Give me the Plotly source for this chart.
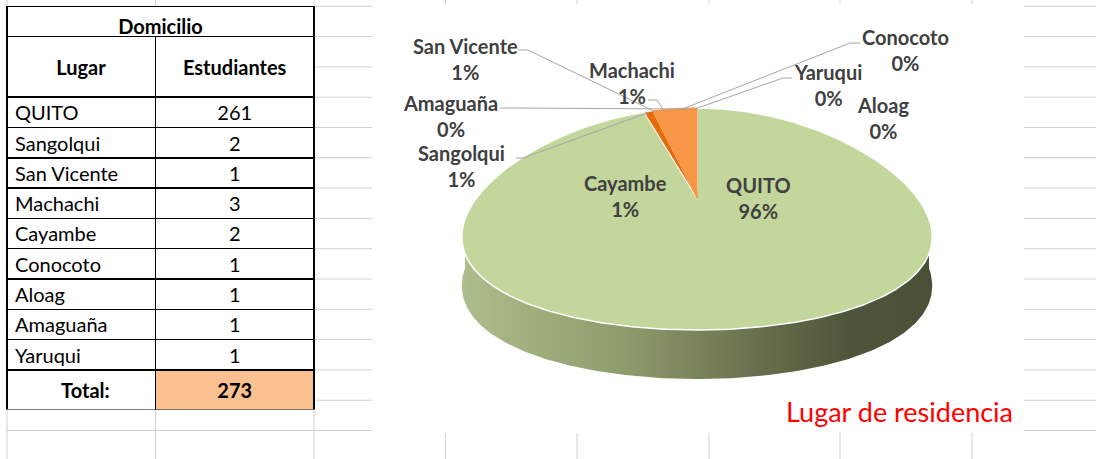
import numpy as np
import plotly.graph_objects as go

# ---------------- data ----------------
places = ["QUITO", "Sangolqui", "San Vicente", "Machachi", "Cayambe",
          "Conocoto", "Aloag", "Amaguaña", "Yaruqui"]
students = [261, 2, 1, 3, 2, 1, 1, 1, 1]
pie_pct = ["96%", "1%", "1%", "1%", "1%", "0%", "0%", "0%", "0%"]   # as printed on the chart
table_title = "Domicilio"
col_headers = ["Lugar", "Estudiantes"]
total_label = "Total:"
chart_title = "Lugar de residencia"

total = sum(students)

# ---------------- styling / layout constants ----------------
W, H = 1096, 459
FONT = "Lato"
LABEL_COLOR = "#404040"
slice_colors = ["#C3D69B", "#E46C0A"] + ["#F79646"] * 7
side_scale = [[0.0, "#aebd8c"], [0.35, "#8e9b6b"], [0.65, "#646d4a"],
              [0.82, "#4f563b"], [1.0, "#4a5037"]]

# pie geometry (pixel space of the page)
CX, CY, RX, RY = 697, 219, 232, 111
DEPTH, APEX_DY, PERSP = 49, 21, 0.17

# label placement: centre (x, y) and optional leader (anchor_x, anchor_y, elbow_x)
label_layout = {
    "QUITO": (758, 198, None),
    "Sangolqui": (461, 166, (516, 158, 523)),
    "San Vicente": (465, 59, (518, 50, 528)),
    "Machachi": (632, 83, (648, 100, 657)),
    "Cayambe": (625, 196, None),
    "Conocoto": (905, 50, (860, 43, 850)),
    "Aloag": (883, 118, None),
    "Amaguaña": (450, 116, (500, 108, 510)),
    "Yaruqui": (828, 85, (792, 78, 783)),
}

# excel grid
grid_rows = [6.3 + 30.3 * k for k in range(16)]
grid_cols = [7, 155.5, 314, 445.5, 577, 709, 840, 972]


def edge(theta_deg, dy=0.0):
    t = np.radians(np.asarray(theta_deg, dtype=float))
    x = CX + RX * np.sin(t) * (1 - PERSP * np.cos(t))
    y = CY - RY * np.cos(t) + dy
    return x, y


fig = go.Figure()

# ---- side of the 3D pie ----
th = np.linspace(90, 270, 240)
tx, ty = edge(th)
bx, by = edge(th[::-1], DEPTH)
fig.add_trace(go.Scatter(
    x=np.concatenate([tx, bx, tx[:1]]), y=np.concatenate([ty, by, ty[:1]]),
    mode="lines", fill="toself", line=dict(width=0, color="rgba(0,0,0,0)"),
    fillgradient=dict(type="horizontal", colorscale=side_scale),
    hoverinfo="skip", showlegend=False))

# ---- top face slices ----
cum = np.concatenate([[0], np.cumsum(students)]) / total * 360.0
apex = (CX, CY - APEX_DY)
for i, name in enumerate(places):
    n = max(3, int((cum[i + 1] - cum[i]) * 2))
    th = np.linspace(cum[i], cum[i + 1], n)
    ex, ey = edge(th)
    xs = np.concatenate([[apex[0]], ex, [apex[0]]])
    ys = np.concatenate([[apex[1]], ey, [apex[1]]])
    if i == 0:
        line = dict(color="white", width=1.5)
    elif i == 1:
        line = dict(color="white", width=0.8)
    else:
        line = dict(color=slice_colors[i], width=1)
    fig.add_trace(go.Scatter(x=xs, y=ys, mode="lines", fill="toself",
                             fillcolor=slice_colors[i], line=line,
                             hoverinfo="skip", showlegend=False, name=name))

# ---- leader lines + labels ----
annotations = []
for i, name in enumerate(places):
    lx, ly, leader = label_layout[name]
    if leader is not None:
        mid = (cum[i] + cum[i + 1]) / 2
        px, py = edge(mid)
        ax, ay, ex_ = leader
        fig.add_trace(go.Scatter(x=[ax, ex_, float(px)], y=[ay, ay, float(py) + 1],
                                 mode="lines", line=dict(color="#a6a6a6", width=1),
                                 hoverinfo="skip", showlegend=False))
    annotations.append(dict(
        x=lx, y=ly, xref="x", yref="y", showarrow=False,
        text=f"<b>{name}</b><br><b>{pie_pct[i]}</b>",
        font=dict(family=FONT, size=20, color=LABEL_COLOR),
        xanchor="center", yanchor="middle", align="center"))

annotations.append(dict(
    x=899, y=411, xref="x", yref="y", showarrow=False, text=chart_title,
    font=dict(family=FONT, size=27, color="#FF0000"),
    xanchor="center", yanchor="middle"))

# ---- spreadsheet grid + chart area (shapes) ----
shapes = []
for yv in grid_rows:
    shapes.append(dict(type="line", xref="x", yref="y", x0=7, x1=W, y0=yv, y1=yv,
                       line=dict(color="#d0d0d0", width=1), layer="below"))
for xv in grid_cols:
    shapes.append(dict(type="line", xref="x", yref="y", x0=xv, x1=xv, y0=0, y1=H,
                       line=dict(color="#d0d0d0", width=1), layer="below"))
shapes.append(dict(type="rect", xref="x", yref="y", x0=372, x1=1024, y0=4, y1=433,
                   fillcolor="white", line=dict(width=0), layer="below"))

# ---- table ----
NB = "\u00a0"
tfont = dict(family=FONT, size=20, color="black")
tline = dict(color="black", width=1.5)
fig.add_trace(go.Table(
    domain=dict(x=[7 / W, 314 / W], y=[1 - 120 / H, 1 - 6.3 / H]),
    header=dict(values=[f"<b>{table_title}</b>"], height=30.3, align="center",
                fill_color="white", line=tline, font=tfont),
    cells=dict(values=[[NB]], height=30.3, line=dict(color="white", width=0),
               fill_color="white", font=tfont)))

first_col = places + [NB * 9 + f"<b>{total_label}</b>"]
second_col = [str(v) for v in students] + [f"<b>{total}</b>"]
nrow = len(first_col)
fig.add_trace(go.Table(
    domain=dict(x=[7 / W, 314 / W], y=[1 - 410 / H, 1 - 36.6 / H]),
    columnwidth=[148.5, 158.5],
    header=dict(values=[f"{NB}<br><span style='font-size:20px'><b>{h}</b></span>" for h in col_headers],
                height=60.6, align="center", fill_color="white", line=tline,
                font=dict(family=FONT, size=13, color="black")),
    cells=dict(values=[first_col, second_col], height=30.3,
               align=["left", "center"],
               fill_color=[["white"] * nrow, ["white"] * (nrow - 1) + ["#FAC090"]],
               line=tline, font=tfont)))

fig.update_layout(
    width=W, height=H, margin=dict(l=0, r=0, t=0, b=0),
    paper_bgcolor="white", plot_bgcolor="white",
    xaxis=dict(range=[0, W], visible=False, fixedrange=True),
    yaxis=dict(range=[H, 0], visible=False, fixedrange=True),
    shapes=shapes, annotations=annotations, showlegend=False,
)

fig.write_html("out.html", include_plotlyjs=True, full_html=True,
               config={"displayModeBar": False},
               post_script="document.body.style.margin='0';document.body.style.overflow='hidden';")
